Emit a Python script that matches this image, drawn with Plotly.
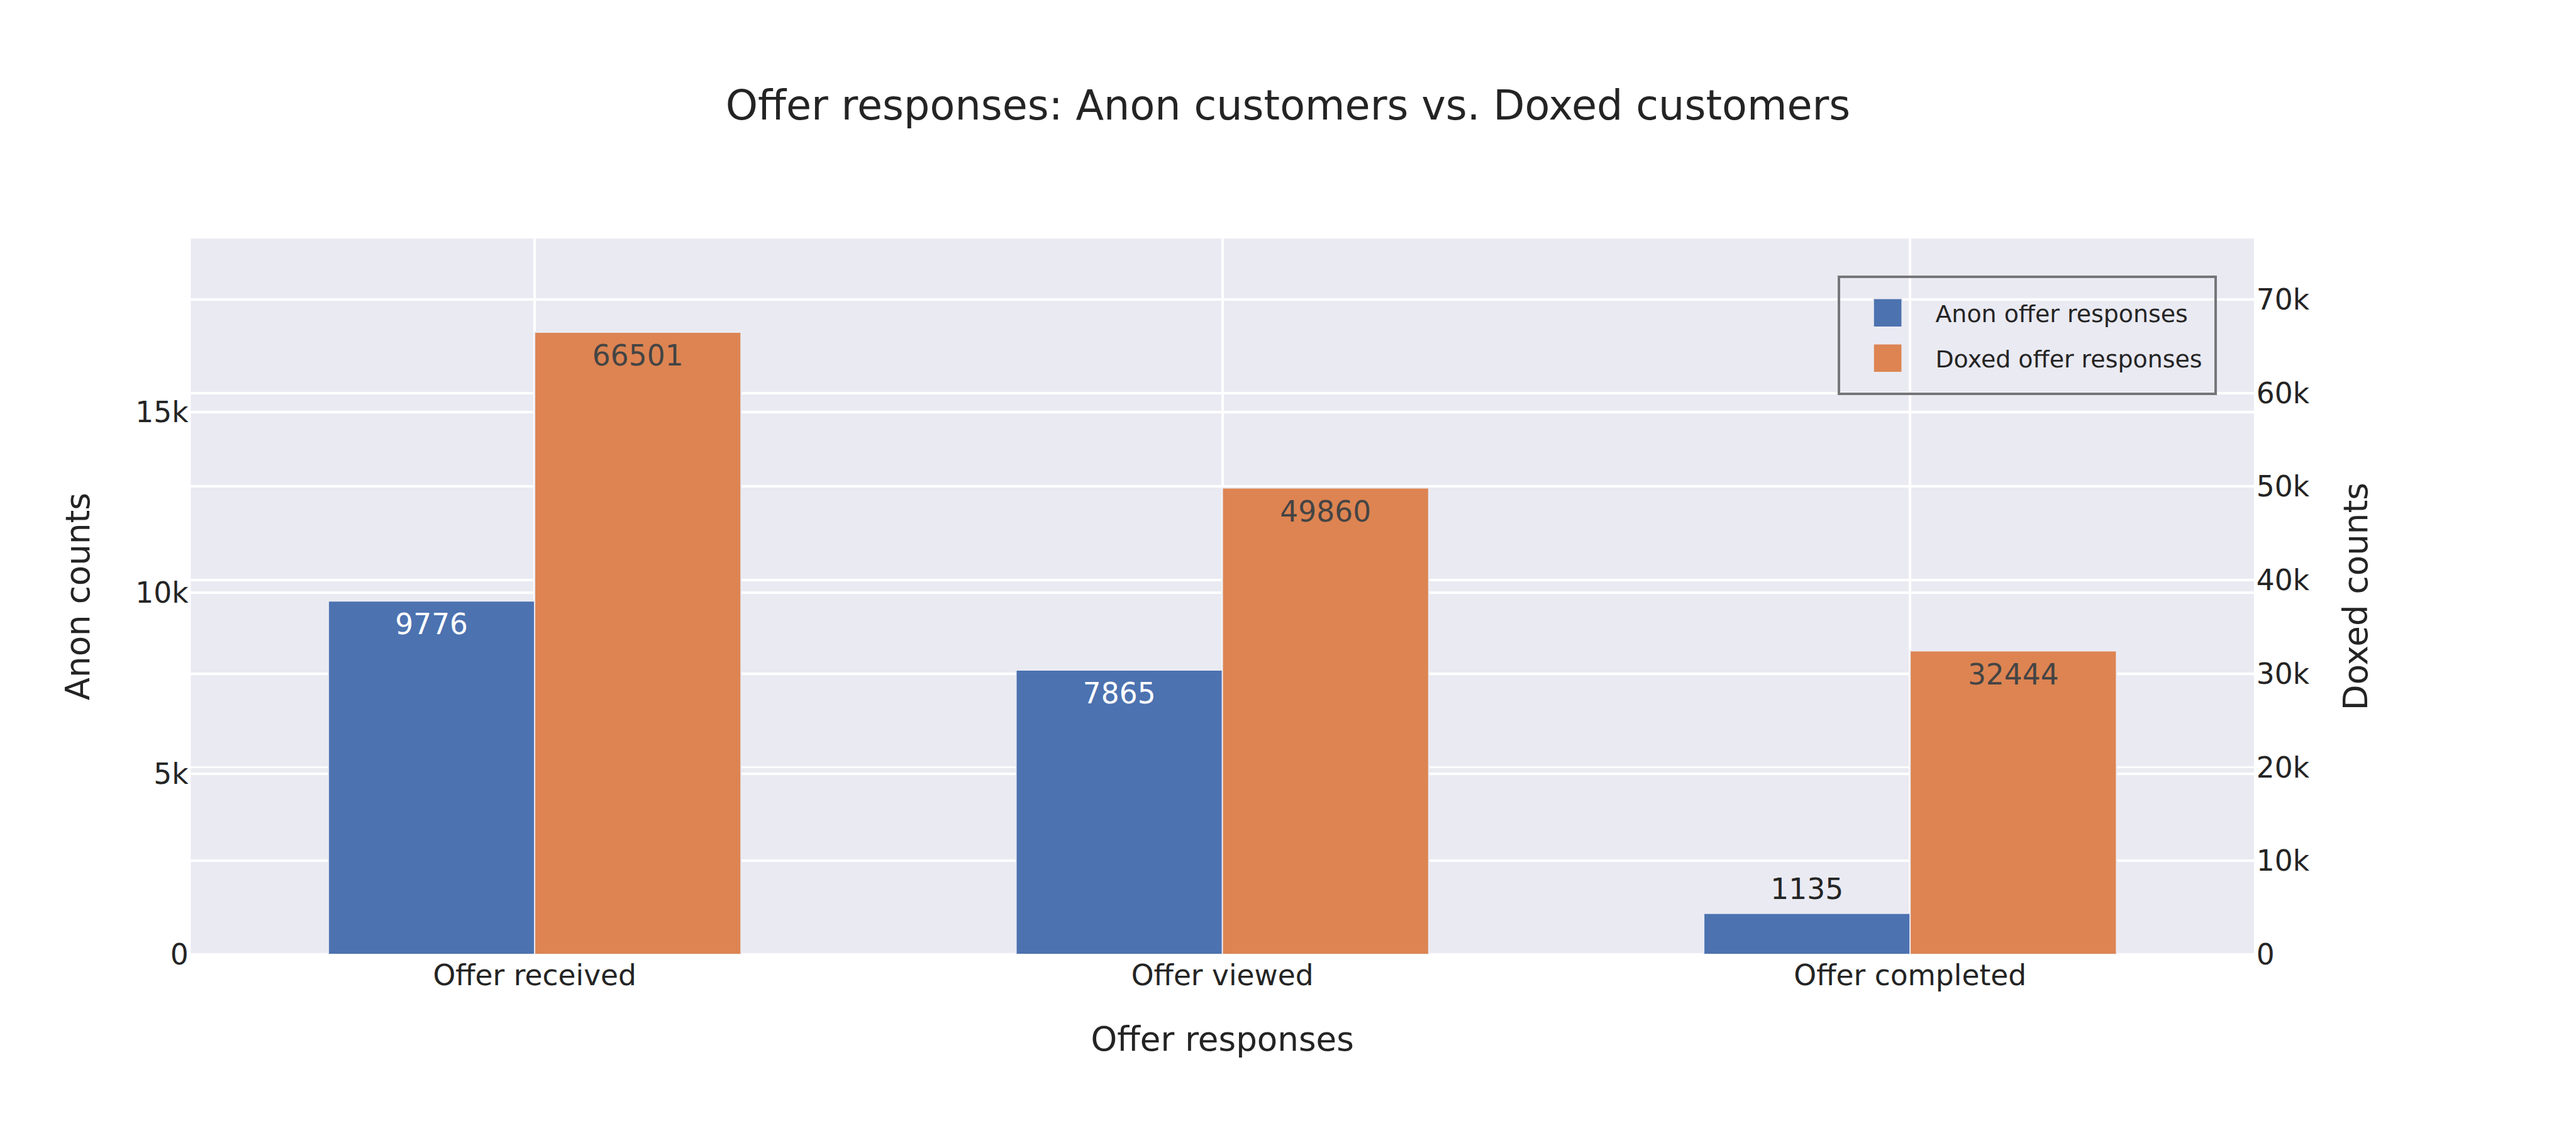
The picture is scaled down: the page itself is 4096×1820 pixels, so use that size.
import plotly.graph_objects as go

categories = ["Offer received", "Offer viewed", "Offer completed"]
anon_counts = [9776, 7865, 1135]
doxed_counts = [66501, 49860, 32444]

FONT = "DejaVu Sans, Verdana, sans-serif"

# Base layout is 1080x480 px; it is scaled up uniformly to fill the 4096x1820 window.
BASE_W, BASE_H = 1080, 480
SCALE = 4096 / BASE_W

fig = go.Figure()
fig.add_trace(go.Bar(
    x=categories, y=anon_counts, name="Anon offer responses",
    text=anon_counts, textposition="auto",
    width=0.3, offset=-0.3, yaxis="y",
    marker=dict(color="rgb(76,114,176)", line=dict(color="rgb(234,234,242)", width=0.5)),
))
fig.add_trace(go.Bar(
    x=categories, y=doxed_counts, name="Doxed offer responses",
    text=doxed_counts, textposition="auto",
    width=0.3, offset=0.0, yaxis="y2",
    marker=dict(color="rgb(221,132,82)", line=dict(color="rgb(234,234,242)", width=0.5)),
))

fig.update_layout(
    template="seaborn",
    width=BASE_W, height=BASE_H,
    margin=dict(l=80, r=135, t=100, b=80, autoexpand=False),
    font=dict(family=FONT, size=12, color="rgb(36,36,36)"),
    title=dict(text="Offer responses: Anon customers vs. Doxed customers",
               x=0.5, xref="container", font=dict(size=17.2, family=FONT)),
    xaxis=dict(title=dict(text="Offer responses", font=dict(size=14)),
               range=[-0.5, 2.5], gridcolor="white"),
    yaxis=dict(title=dict(text="Anon counts", font=dict(size=14)),
               range=[0, 19800], dtick=5000, gridcolor="white"),
    yaxis2=dict(title=dict(text="Doxed counts", font=dict(size=14)),
                range=[0, 76500], dtick=10000, overlaying="y", side="right",
                gridcolor="white"),
    legend=dict(x=0.982, xanchor="right", y=0.948, yanchor="top",
                bgcolor="rgba(0,0,0,0)", bordercolor="rgb(118,118,122)", borderwidth=1,
                font=dict(size=10)),
    showlegend=True,
)

fig.write_html(
    "out.html",
    post_script="var gd=document.getElementById('{plot_id}'); gd.style.zoom='%f';" % SCALE,
)
